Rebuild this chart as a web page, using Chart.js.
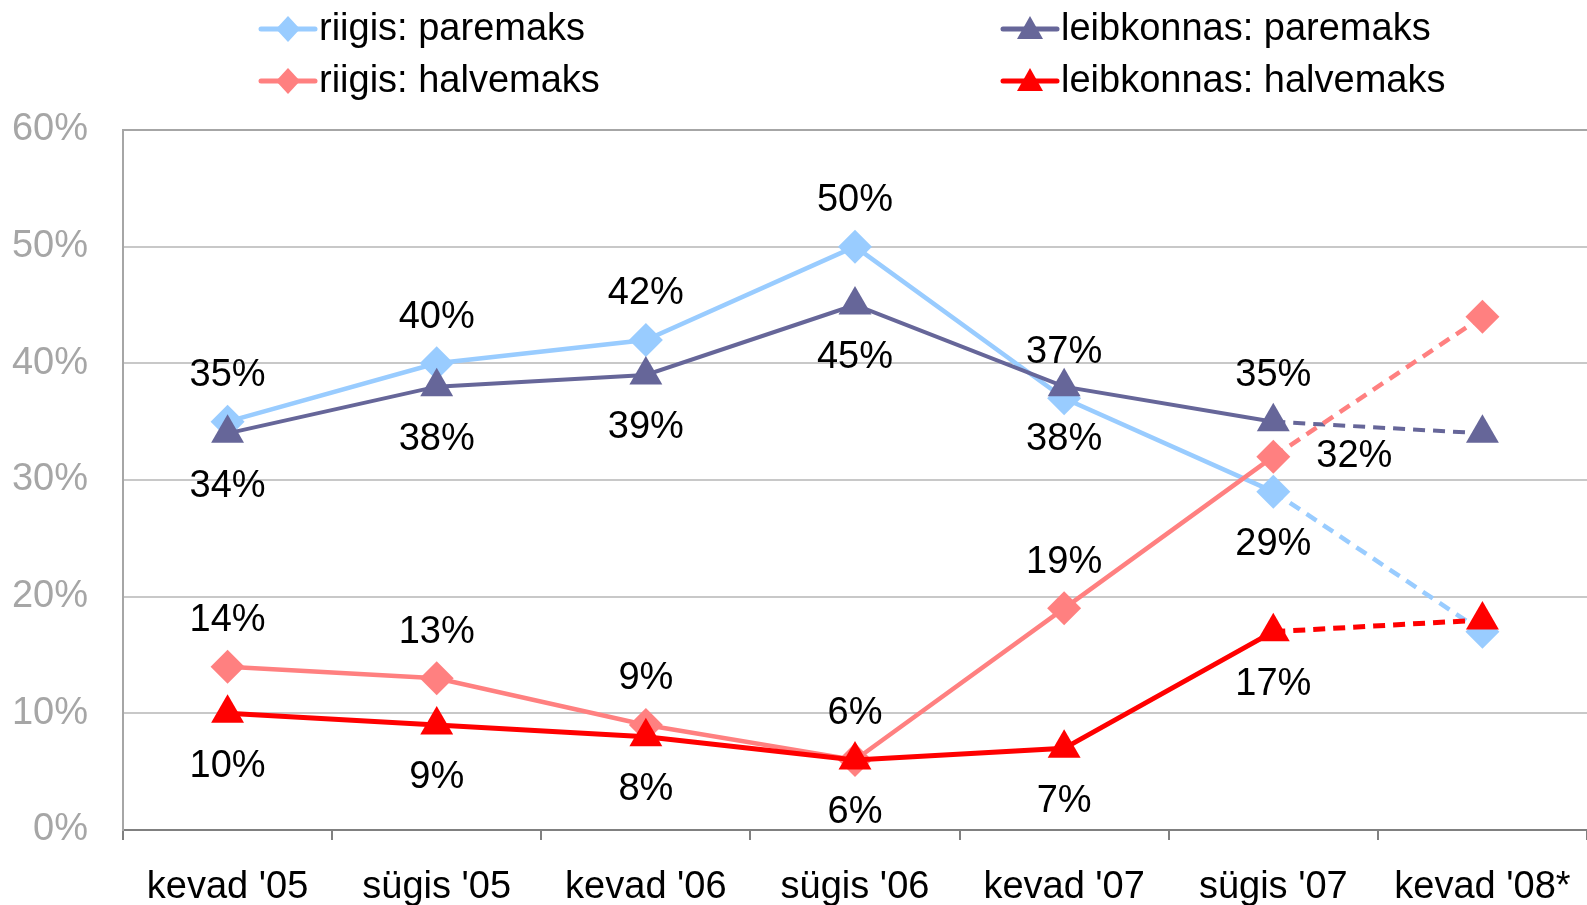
<!DOCTYPE html>
<html>
<head>
<meta charset="utf-8">
<script src="https://cdn.jsdelivr.net/npm/chart.js@4.4.0/dist/chart.umd.min.js"></script>
<style>
  html, body { margin: 0; padding: 0; background: #fff; }
  #wrap { width: 1587px; height: 905px; }
</style>
</head>
<body>
<div id="wrap"><canvas id="chart" width="1587" height="905"></canvas></div>
<script>
const categories = ["kevad '05", "sügis '05", "kevad '06", "sügis '06", "kevad '07", "sügis '07", "kevad '08*"];

const riigisParemaks      = [35, 40, 42, 50, 37, 29, 17];
const leibkonnasParemaks  = [34, 38, 39, 45, 38, 35, 34];
const riigisHalvemaks     = [14, 13, 9, 6, 19, 32, 44];
const leibkonnasHalvemaks = [10, 9, 8, 6, 7, 17, 18];

const yTicks = [0, 10, 20, 30, 40, 50, 60];

// where the value label sits for each point (null = no label)
const riigisParemaksPos      = ["above", "above", "above", "above", "above", "below", null];
const leibkonnasParemaksPos  = ["below", "below", "below", "below", "below", "above", null];
const riigisHalvemaksPos     = ["above", "above", "above", "above", "above", "right", null];
const leibkonnasHalvemaksPos = ["below", "below", "below", "below", "below", "below", null];

const FONT = "'Liberation Sans', Arial, sans-serif";
const FSIZE = 38;

// last segment (towards kevad '08*) is dashed
function dashLast(ctx) {
  return ctx.p1DataIndex === categories.length - 1 ? [12, 8] : undefined;
}

function makeSet(label, data, color, width, style, radius, order, pos) {
  return {
    label: label,
    data: data,
    borderColor: color,
    backgroundColor: color,
    borderWidth: width,
    pointStyle: style,
    pointRadius: radius,
    pointHoverRadius: radius,
    pointBackgroundColor: color,
    pointBorderWidth: 0,
    tension: 0,
    order: order,
    clip: false,
    labelPos: pos,
    segment: { borderDash: dashLast },
  };
}

const datasets = [
  makeSet("riigis: paremaks", riigisParemaks, "#99ccff", 4.5, "rectRot", 17, 4, riigisParemaksPos),
  makeSet("leibkonnas: paremaks", leibkonnasParemaks, "#666699", 4, "triangle", 19, 3, leibkonnasParemaksPos),
  makeSet("riigis: halvemaks", riigisHalvemaks, "#ff8080", 4.5, "rectRot", 17, 2, riigisHalvemaksPos),
  makeSet("leibkonnas: halvemaks", leibkonnasHalvemaks, "#ff0000", 5, "triangle", 19, 1, leibkonnasHalvemaksPos),
];

// value labels next to the points
const valueLabels = {
  id: "valueLabels",
  afterDatasetsDraw(chart) {
    const ctx = chart.ctx;
    ctx.save();
    ctx.font = FSIZE + "px " + FONT;
    ctx.fillStyle = "#000";
    ctx.textAlign = "center";
    ctx.textBaseline = "middle";
    chart.data.datasets.forEach((ds, i) => {
      const meta = chart.getDatasetMeta(i);
      meta.data.forEach((pt, j) => {
        const pos = ds.labelPos[j];
        if (!pos) return;
        let x = pt.x, y = pt.y;
        if (pos === "above") y -= 46;
        else if (pos === "below") y += 53;
        else if (pos === "right") { x += 81; y += 0; }
        ctx.fillText(ds.data[j] + "%", x, y);
      });
    });
    ctx.restore();
  },
};

// legend: two columns, two rows
const customLegend = {
  id: "customLegend",
  afterDraw(chart) {
    const ctx = chart.ctx;
    const spots = [[261, 29], [1003, 29], [261, 81], [1003, 81]];
    ctx.save();
    chart.data.datasets.forEach((ds, i) => {
      const [x0, y] = spots[i];
      ctx.strokeStyle = ds.borderColor;
      ctx.lineWidth = 5;
      ctx.lineCap = "round";
      ctx.beginPath();
      ctx.moveTo(x0, y);
      ctx.lineTo(x0 + 54, y);
      ctx.stroke();
      const cx = x0 + 27;
      ctx.fillStyle = ds.borderColor;
      ctx.beginPath();
      if (ds.pointStyle === "rectRot") {
        ctx.moveTo(cx, y - 13);
        ctx.lineTo(cx + 12, y);
        ctx.lineTo(cx, y + 13);
        ctx.lineTo(cx - 12, y);
      } else {
        ctx.moveTo(cx, y - 13);
        ctx.lineTo(cx + 13, y + 10);
        ctx.lineTo(cx - 13, y + 10);
      }
      ctx.closePath();
      ctx.fill();
      ctx.fillStyle = "#000";
      ctx.font = FSIZE + "px " + FONT;
      ctx.textAlign = "left";
      ctx.textBaseline = "middle";
      ctx.fillText(ds.label, x0 + 58, y + 1);
    });
    ctx.restore();
  },
};

new Chart(document.getElementById("chart"), {
  type: "line",
  data: { labels: categories, datasets: datasets },
  plugins: [valueLabels, customLegend],
  options: {
    responsive: false,
    animation: false,
    layout: { autoPadding: false, padding: { top: 130, left: 0, right: 0, bottom: 0 } },
    plugins: {
      legend: { display: false },
      tooltip: { enabled: false },
    },
    scales: {
      x: {
        type: "category",
        offset: true,
        grid: {
          offset: true,
          drawOnChartArea: false,
          tickLength: 10,
          color: "#808080",
          lineWidth: 2,
        },
        border: { color: "#808080", width: 2 },
        ticks: {
          font: { family: FONT, size: FSIZE },
          color: "#000",
          padding: 25,
          maxRotation: 0,
        },
        afterFit(scale) {
          scale.height = 75;
          scale.paddingLeft = 0;
          scale.paddingRight = 0;
        },
      },
      y: {
        min: yTicks[0],
        max: yTicks[yTicks.length - 1],
        afterBuildTicks(scale) {
          scale.ticks = yTicks.map(v => ({ value: v }));
        },
        grid: {
          drawTicks: false,
          lineWidth: 2,
          color: (c) => c.tick && c.tick.value === 0 ? "rgba(0,0,0,0)" :
            (c.tick && c.tick.value === 60 ? "#a6a6a6" : "#c8c8c8"),
        },
        border: { color: "#a6a6a6", width: 2 },
        ticks: {
          font: { family: FONT, size: FSIZE },
          color: "#a6a6a6",
          padding: 35,
          callback: (v) => v + "%",
        },
        afterFit(scale) { scale.width = 123; },
      },
    },
  },
});
</script>
</body>
</html>
